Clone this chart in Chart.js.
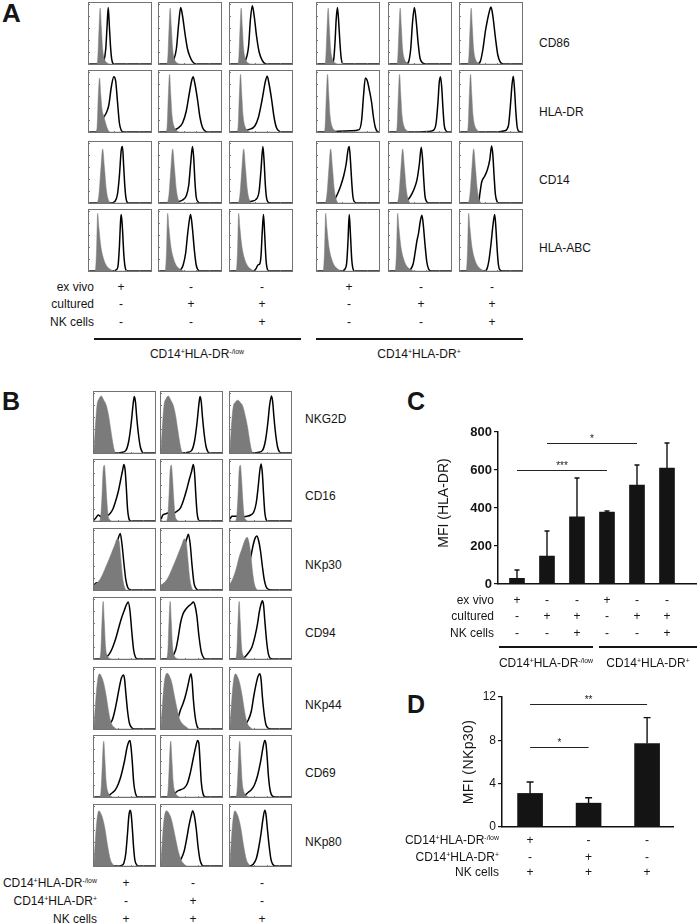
<!DOCTYPE html>
<html><head><meta charset="utf-8">
<script src="https://cdn.jsdelivr.net/npm/chart.js@4.4.1/dist/chart.umd.min.js"></script>
<style>
html,body{margin:0;padding:0;background:#fff;}
#root{position:relative;width:697px;height:923px;overflow:hidden;font-family:Arial,"Liberation Sans",sans-serif;color:#151515;}
#root canvas{position:absolute;}
.t{position:absolute;white-space:nowrap;line-height:1;}
.t sup{font-size:0.58em;vertical-align:0;position:relative;top:-0.6em;line-height:0;}
.hl{position:absolute;height:1.5px;background:#151515;}
</style></head><body><div id="root"></div>
<script>
// ---------------- DATA ----------------
const markersA = ['CD86','HLA-DR','CD14','HLA-ABC'];
const markersB = ['NKG2D','CD16','NKp30','CD94','NKp44','CD69','NKp80'];
const condNamesA = ['ex vivo','cultured','NK cells'];
const exVivoA   = ['+','-','-','+','-','-'];
const culturedA = ['-','+','+','-','+','+'];
const nkA       = ['-','-','+','-','-','+'];
const groupLabels = ['CD14<sup>+</sup>HLA-DR<sup>-/low</sup>','CD14<sup>+</sup>HLA-DR<sup>+</sup>'];
const condNamesB = ['CD14<sup>+</sup>HLA-DR<sup>-/low</sup>','CD14<sup>+</sup>HLA-DR<sup>+</sup>','NK cells'];
const lowB = ['+','-','-'];
const posB = ['-','+','-'];
const nkB  = ['+','+','+'];

// Panel C: MFI HLA-DR
const mfiHLADR    = [30, 147, 353, 379, 521, 610];
const mfiHLADRerr = [44, 132, 205, 5, 105, 132];
const sigC_from = [1, 2]; const sigC_to = [4, 5]; const sigC_level = [600, 742]; const sigC_text = ['***','*'];
// Panel D: MFI NKp30
const mfiNKp30    = [3.1, 2.2, 7.7];
const mfiNKp30err = [1.05, 0.5, 2.4];
const sigD_from = [1, 1]; const sigD_to = [3, 2]; const sigD_level = [11.36, 7.4]; const sigD_text = ['**','*'];

// Panel A histograms: [x% of log-fluorescence axis, y% of max count]
const isoA_CD86   = [[0,0],[12,0],[14,8],[16,55],[18,93],[20,60],[22,25],[25,8],[29,2],[35,0],[100,0]];
const isoA_HLADR  = [[0,0],[11,0],[13,8],[15,60],[17,96],[19,62],[21,28],[24,10],[28,3],[34,0],[100,0]];
const isoA_HLADRx = [[0,0],[11,0],[13,8],[15,60],[17,90],[19,62],[21,38],[24,26],[27,14],[30,5],[34,0],[100,0]];
const isoA_CD14   = [[0,0],[13,0],[16,14],[19,55],[22,90],[25,58],[28,22],[31,6],[35,0],[100,0]];
const isoA_HLAABC = [[0,0],[10,0],[12,30],[14,96],[16,72],[19,42],[23,22],[28,9],[34,3],[42,0],[100,0]];

const A_CD86_1 = [[0,0],[20,0],[24,5],[27,25],[29,60],[31,94],[33,60],[35,25],[37,6],[40,0],[100,0]];
const A_CD86_2 = [[0,0],[18,0],[23,5],[28,25],[32,70],[35,94],[38,80],[42,50],[46,25],[50,12],[54,4],[60,0],[100,0]];
const A_CD86_3 = [[0,0],[20,0],[25,6],[30,30],[33,75],[36,97],[39,80],[43,45],[47,20],[52,6],[58,0],[100,0]];
const A_CD86_4 = [[0,0],[24,0],[27,8],[29,35],[31,75],[33,94],[35,70],[37,35],[39,10],[42,0],[100,0]];
const A_CD86_5 = [[0,0],[28,0],[32,5],[35,25],[38,70],[41,94],[44,70],[47,35],[50,10],[54,2],[60,0],[100,0]];
const A_CD86_6 = [[0,0],[28,0],[33,5],[37,25],[41,55],[44,72],[47,86],[50,95],[53,80],[57,45],[61,15],[65,3],[70,0],[100,0]];

const A_HLADR_1 = [[0,0],[12,0],[16,8],[22,22],[28,32],[32,45],[36,75],[40,92],[43,85],[46,50],[49,15],[52,3],[56,0],[100,0]];
const A_HLADR_2 = [[0,0],[10,0],[20,2],[30,6],[38,15],[44,35],[49,65],[53,87],[55,92],[58,80],[62,55],[66,25],[70,8],[75,1],[80,0],[100,0]];
const A_HLADR_3 = [[0,0],[10,0],[20,2],[30,4],[40,10],[46,25],[52,55],[57,84],[60,93],[63,80],[67,55],[71,25],[75,7],[80,1],[85,0],[100,0]];
const A_HLADR_4 = [[0,0],[10,0],[30,1],[55,2],[68,4],[72,20],[75,60],[78,90],[81,86],[84,72],[88,50],[91,25],[94,8],[97,1],[100,0]];
const A_HLADR_5 = [[0,0],[50,0],[65,1],[72,3],[76,15],[79,50],[81,82],[83,92],[85,75],[87,40],[89,12],[92,2],[95,0],[100,0]];
const A_HLADR_6 = [[0,0],[60,0],[72,2],[78,10],[81,40],[84,80],[86,93],[88,70],[90,35],[92,10],[95,1],[100,0]];

const A_CD14_1 = [[0,0],[35,0],[42,3],[46,15],[49,45],[52,88],[54,94],[56,60],[58,25],[60,6],[63,0],[100,0]];
const A_CD14_2 = [[0,0],[20,0],[30,2],[38,5],[44,12],[48,30],[51,65],[54,94],[56,75],[58,35],[60,10],[63,2],[66,0],[100,0]];
const A_CD14_3 = [[0,0],[20,0],[28,2],[35,3],[42,6],[47,20],[50,55],[53,94],[55,70],[57,30],[59,8],[62,1],[65,0],[100,0]];
const A_CD14_4 = [[0,0],[24,0],[28,5],[33,15],[38,28],[43,45],[47,65],[50,88],[52,94],[54,70],[56,35],[58,10],[61,1],[64,0],[100,0]];
const A_CD14_5 = [[0,0],[24,0],[28,3],[34,10],[40,22],[45,38],[49,65],[52,93],[54,75],[56,40],[58,12],[61,2],[64,0],[100,0]];
const A_CD14_6 = [[0,0],[30,0],[32,15],[35,35],[40,45],[44,55],[48,72],[51,95],[53,80],[55,45],[57,15],[60,2],[63,0],[100,0]];

const A_HLAABC_1 = [[0,0],[38,0],[44,2],[47,10],[49,40],[51,85],[52,94],[54,70],[56,30],[58,8],[60,1],[63,0],[100,0]];
const A_HLAABC_2 = [[0,0],[30,0],[35,2],[39,10],[43,30],[46,60],[49,85],[51,94],[54,70],[57,35],[60,10],[63,2],[66,0],[100,0]];
const A_HLAABC_3 = [[0,0],[38,0],[42,4],[45,10],[48,12],[50,25],[52,65],[54,94],[56,60],[58,20],[60,4],[63,0],[100,0]];
const A_HLAABC_4 = [[0,0],[40,0],[45,3],[48,15],[50,50],[52,94],[54,60],[56,20],[58,4],[61,0],[100,0]];
const A_HLAABC_5 = [[0,0],[30,0],[35,3],[39,12],[42,30],[45,50],[48,65],[50,80],[53,93],[55,80],[58,45],[61,15],[64,3],[68,0],[100,0]];
const A_HLAABC_6 = [[0,0],[40,0],[44,5],[47,20],[50,45],[53,75],[56,94],[58,70],[60,35],[62,10],[65,1],[68,0],[100,0]];

// Panel B histograms
const isoB_NKG2D   = [[0,5],[2,40],[5,80],[8,90],[12,95],[16,88],[20,80],[24,62],[27,42],[30,22],[33,6],[36,0],[100,0]];
const isoB_NKG2D_3 = [[0,5],[2,40],[5,75],[9,85],[13,88],[17,84],[21,78],[25,62],[29,42],[32,22],[35,6],[38,0],[100,0]];
const isoB_CD16    = [[0,0],[8,0],[11,8],[13,40],[15,85],[17,93],[19,70],[21,35],[23,10],[26,2],[30,0],[100,0]];
const isoB_NKp30   = [[0,8],[5,12],[10,18],[15,28],[20,40],[25,52],[30,65],[34,75],[38,85],[41,82],[44,52],[47,20],[50,5],[53,0],[100,0]];
const isoB_NKp30_3 = [[0,10],[5,20],[10,35],[15,55],[20,70],[24,82],[28,88],[31,80],[34,60],[37,30],[40,10],[43,2],[46,0],[100,0]];
const isoB_CD94    = [[0,0],[8,0],[11,10],[13,60],[15,96],[17,60],[19,20],[22,5],[26,1],[30,0],[100,0]];
const isoB_NKp44   = [[0,5],[3,50],[6,82],[9,92],[12,88],[16,76],[20,55],[23,35],[26,18],[29,8],[33,3],[38,0],[100,0]];
const isoB_NKp44_2 = [[0,5],[3,50],[6,82],[10,93],[14,88],[18,76],[22,55],[26,35],[30,18],[34,10],[38,6],[42,3],[46,0],[100,0]];
const isoB_CD69    = [[0,0],[9,0],[11,5],[13,40],[15,85],[16,93],[18,60],[20,25],[23,8],[27,2],[32,0],[100,0]];
const isoB_NKp80   = [[0,5],[2,40],[5,78],[8,92],[11,88],[14,80],[18,62],[21,42],[24,24],[27,10],[30,4],[34,0],[100,0]];
const isoB_NKp80_2 = [[0,5],[2,40],[5,78],[9,92],[13,88],[17,78],[21,60],[25,40],[29,22],[33,10],[37,4],[42,0],[100,0]];

const B_NKG2D_1 = [[0,2],[5,1],[30,0],[45,1],[52,4],[57,20],[61,50],[64,80],[66,94],[68,85],[70,60],[73,30],[76,10],[79,2],[83,0],[100,0]];
const B_NKG2D_2 = [[0,2],[5,1],[30,0],[43,1],[50,4],[55,20],[59,50],[62,80],[64,94],[66,85],[68,60],[71,30],[74,10],[77,2],[81,0],[100,0]];
const B_NKG2D_3 = [[0,1],[5,0],[30,0],[46,1],[53,4],[58,20],[62,50],[65,80],[68,95],[70,85],[72,60],[75,30],[78,10],[81,2],[85,0],[100,0]];
const B_CD16_1 = [[0,2],[3,5],[7,10],[10,8],[15,6],[20,8],[26,12],[31,20],[36,35],[40,50],[44,70],[47,85],[49,94],[51,85],[53,55],[55,20],[57,5],[60,0],[100,0]];
const B_CD16_2 = [[0,3],[3,10],[8,12],[14,14],[20,13],[26,16],[32,22],[37,35],[42,52],[46,68],[50,82],[53,94],[55,80],[57,45],[59,15],[61,3],[64,0],[100,0]];
const B_CD16_3 = [[0,3],[3,8],[10,8],[20,7],[28,8],[34,10],[39,15],[43,30],[46,55],[49,85],[51,95],[53,80],[55,45],[57,15],[59,3],[62,0],[100,0]];
const B_NKp30_1 = [[0,8],[4,12],[8,12],[12,15],[17,20],[22,28],[27,38],[32,55],[36,72],[40,87],[43,94],[46,75],[49,45],[52,18],[55,5],[58,1],[62,0],[100,0]];
const B_NKp30_2 = [[0,6],[5,10],[10,12],[15,18],[20,25],[25,32],[30,42],[35,58],[39,75],[43,88],[45,93],[48,75],[51,40],[54,12],[57,3],[61,0],[100,0]];
const B_NKp30_3 = [[0,8],[5,10],[10,12],[15,14],[20,18],[25,25],[30,38],[34,55],[38,75],[41,86],[44,90],[47,82],[50,65],[53,40],[56,18],[59,6],[63,1],[68,0],[100,0]];
const B_CD94_1 = [[0,0],[15,0],[20,3],[25,8],[30,18],[35,32],[40,50],[45,68],[50,82],[53,90],[56,95],[59,80],[62,45],[65,15],[68,3],[72,0],[100,0]];
const B_CD94_2 = [[0,0],[10,0],[18,4],[24,15],[28,35],[32,60],[36,75],[40,82],[45,88],[50,92],[53,95],[56,88],[59,70],[62,40],[66,12],[70,2],[74,0],[100,0]];
const B_CD94_3 = [[0,0],[20,0],[24,3],[30,10],[36,20],[41,38],[45,58],[48,78],[51,92],[53,97],[55,90],[57,65],[60,30],[63,8],[66,1],[70,0],[100,0]];
const B_NKp44_1 = [[0,3],[5,5],[10,4],[15,4],[20,5],[25,8],[30,15],[34,30],[38,50],[42,72],[45,85],[48,90],[50,84],[52,62],[55,30],[58,10],[62,2],[66,0],[100,0]];
const B_NKp44_2 = [[0,3],[5,5],[10,5],[15,6],[20,8],[25,12],[29,22],[32,32],[36,42],[40,55],[44,72],[47,86],[49,92],[51,80],[53,50],[56,20],[59,5],[63,0],[100,0]];
const B_NKp44_3 = [[0,3],[5,4],[10,4],[15,5],[20,6],[25,8],[30,15],[35,30],[39,55],[43,76],[46,88],[49,92],[51,82],[53,55],[56,25],[59,7],[63,1],[67,0],[100,0]];
const B_CD69_1 = [[0,0],[20,0],[25,3],[30,7],[35,12],[40,22],[45,38],[50,60],[54,82],[57,92],[59,94],[61,80],[63,55],[65,25],[68,6],[72,0],[100,0]];
const B_CD69_2 = [[0,0],[18,0],[22,5],[27,10],[32,12],[38,15],[43,22],[48,40],[53,65],[57,84],[60,94],[62,90],[64,60],[66,25],[69,5],[73,0],[100,0]];
const B_CD69_3 = [[0,0],[22,0],[26,4],[30,8],[35,12],[40,20],[45,35],[50,58],[54,82],[57,94],[59,88],[61,65],[63,35],[66,10],[70,1],[74,0],[100,0]];
const B_NKp80_1 = [[0,1],[5,0],[40,0],[45,1],[49,5],[52,20],[55,55],[57,82],[59,93],[61,86],[63,60],[65,30],[67,10],[70,2],[74,0],[100,0]];
const B_NKp80_2 = [[0,2],[10,2],[20,3],[28,6],[33,12],[38,25],[42,45],[46,68],[50,86],[52,92],[55,82],[58,60],[61,30],[64,10],[67,2],[71,0],[100,0]];
const B_NKp80_3 = [[0,0],[30,0],[38,3],[43,12],[47,30],[51,55],[54,78],[57,93],[59,86],[61,65],[64,35],[67,12],[70,3],[74,0],[100,0]];

// ---------------- DRAWING ----------------
Chart.defaults.font.family = 'Arial, "Liberation Sans", sans-serif';
Chart.defaults.animation = false;
const root = document.getElementById('root');

function txt(html, x, y, o = {}) {
  const d = document.createElement('div');
  d.className = 't';
  d.innerHTML = html;
  d.style.left = x + 'px';
  d.style.top = y + 'px';
  d.style.fontSize = (o.size || 12) + 'px';
  if (o.bold) d.style.fontWeight = 'bold';
  if (o.spacing) d.style.letterSpacing = o.spacing + 'px';
  const tx = o.align === 'right' ? '-100%' : o.align === 'center' ? '-50%' : '0';
  d.style.transform = `translate(${tx},-50%)` + (o.rot ? ' rotate(-90deg)' : '');
  root.appendChild(d);
  return d;
}
function hline(x1, x2, y) {
  const d = document.createElement('div');
  d.className = 'hl';
  d.style.left = x1 + 'px'; d.style.top = (y - 0.75) + 'px'; d.style.width = (x2 - x1) + 'px';
  root.appendChild(d);
}
function canvasAt(x, y, w, h) {
  const c = document.createElement('canvas');
  c.width = w; c.height = h;
  c.style.left = x + 'px'; c.style.top = y + 'px';
  c.style.width = w + 'px'; c.style.height = h + 'px';
  root.appendChild(c);
  return c;
}
const framePlugin = {
  id: 'frame',
  afterDraw(chart) {
    const ctx = chart.ctx;
    ctx.save();
    ctx.strokeStyle = '#727272';
    ctx.lineWidth = 1;
    ctx.strokeRect(0.5, 0.5, chart.width - 1, chart.height - 1);
    // small log-decade tick marks on the left and bottom edges
    const xs = chart.scales.x, ys = chart.scales.y;
    ctx.strokeStyle = '#777';
    ctx.beginPath();
    for (let v = 0; v <= 100; v += 20) {
      const px = Math.round(xs.getPixelForValue(v)) + 0.5;
      ctx.moveTo(px, chart.height); ctx.lineTo(px, chart.height - 2);
      const py = Math.round(ys.getPixelForValue(v)) + 0.5;
      ctx.moveTo(0, py); ctx.lineTo(2, py);
    }
    ctx.stroke();
    ctx.restore();
  }
};
const pts = a => a.map(p => ({x: p[0], y: p[1]}));
function makeHist(x, y, w, h, gray, black) {
  const c = canvasAt(x, y, w, h);
  new Chart(c, {
    type: 'line',
    data: { datasets: [
      { data: pts(gray), fill: 'origin', backgroundColor: '#7b7b7b', borderColor: '#7b7b7b', borderWidth: 0.5, pointRadius: 0, cubicInterpolationMode: 'monotone' },
      { data: pts(black), fill: false, borderColor: '#000', borderWidth: 1.5, pointRadius: 0, cubicInterpolationMode: 'monotone' }
    ]},
    options: {
      responsive: false, animation: false, events: [],
      layout: { padding: { top: 2, left: 1, right: 1, bottom: 1 } },
      plugins: { legend: { display: false }, tooltip: { enabled: false } },
      scales: {
        x: { type: 'linear', min: 0, max: 100, display: false },
        y: { min: 0, max: 100, display: false }
      }
    },
    plugins: [framePlugin]
  });
}

// ----- Panel A -----
txt('A', 2, 13, {size: 26, bold: true});
const grayA = [
  [isoA_CD86, isoA_CD86, isoA_CD86, isoA_CD86, isoA_CD86, isoA_CD86],
  [isoA_HLADRx, isoA_HLADR, isoA_HLADR, isoA_HLADR, isoA_HLADR, isoA_HLADR],
  [isoA_CD14, isoA_CD14, isoA_CD14, isoA_CD14, isoA_CD14, isoA_CD14],
  [isoA_HLAABC, isoA_HLAABC, isoA_HLAABC, isoA_HLAABC, isoA_HLAABC, isoA_HLAABC]
];
const blackA = [
  [A_CD86_1, A_CD86_2, A_CD86_3, A_CD86_4, A_CD86_5, A_CD86_6],
  [A_HLADR_1, A_HLADR_2, A_HLADR_3, A_HLADR_4, A_HLADR_5, A_HLADR_6],
  [A_CD14_1, A_CD14_2, A_CD14_3, A_CD14_4, A_CD14_5, A_CD14_6],
  [A_HLAABC_1, A_HLAABC_2, A_HLAABC_3, A_HLAABC_4, A_HLAABC_5, A_HLAABC_6]
];
const colsA = [88, 158, 229, 316, 388, 459];
const rowsA = [2, 70, 141, 209];
const labelYA = [43, 112, 180, 248];
const boxW = 64, boxH = 63;
rowsA.forEach((ry, r) => {
  colsA.forEach((cx, c) => makeHist(cx, ry, boxW, boxH, grayA[r][c], blackA[r][c]));
  txt(markersA[r], 539, labelYA[r], {size: 12});
});
const condA = [exVivoA, culturedA, nkA];
const condYA = [287, 304, 322];
condNamesA.forEach((n, i) => {
  txt(n, 94, condYA[i], {size: 12, align: 'right'});
  condA[i].forEach((s, c) => txt(s, colsA[c] + 33, condYA[i], {size: 12, align: 'center'}));
});
hline(94, 301, 339); hline(316, 523, 339);
txt(groupLabels[0], 197, 354, {size: 12, align: 'center'});
txt(groupLabels[1], 419, 354, {size: 12, align: 'center'});

// ----- Panel B -----
txt('B', 2, 401, {size: 25, bold: true});
const grayB = [
  [isoB_NKG2D, isoB_NKG2D, isoB_NKG2D_3],
  [isoB_CD16, isoB_CD16, isoB_CD16],
  [isoB_NKp30, isoB_NKp30, isoB_NKp30_3],
  [isoB_CD94, isoB_CD94, isoB_CD94],
  [isoB_NKp44, isoB_NKp44_2, isoB_NKp44],
  [isoB_CD69, isoB_CD69, isoB_CD69],
  [isoB_NKp80, isoB_NKp80_2, isoB_NKp80]
];
const blackB = [
  [B_NKG2D_1, B_NKG2D_2, B_NKG2D_3],
  [B_CD16_1, B_CD16_2, B_CD16_3],
  [B_NKp30_1, B_NKp30_2, B_NKp30_3],
  [B_CD94_1, B_CD94_2, B_CD94_3],
  [B_NKp44_1, B_NKp44_2, B_NKp44_3],
  [B_CD69_1, B_CD69_2, B_CD69_3],
  [B_NKp80_1, B_NKp80_2, B_NKp80_3]
];
const colsB = [93, 160, 229];
const rowsB = [391, 459, 528, 597, 667, 735, 804];
const labelYB = [419, 496, 565, 633, 705, 773, 842];
rowsB.forEach((ry, r) => {
  colsB.forEach((cx, c) => makeHist(cx, ry, 63, 63, grayB[r][c], blackB[r][c]));
  txt(markersB[r], 305, labelYB[r], {size: 12});
});
const condB = [lowB, posB, nkB];
const condYB = [883, 901, 919];
condNamesB.forEach((n, i) => {
  txt(n, 97, condYB[i], {size: 12, align: 'right'});
  condB[i].forEach((s, c) => txt(s, colsB[c] + 33, condYB[i], {size: 12, align: 'center'}));
});

// ----- bar chart helpers -----
function errorBars(errs, cap) {
  return {
    id: 'errbars',
    afterDatasetsDraw(chart) {
      const meta = chart.getDatasetMeta(0), ys = chart.scales.y, ctx = chart.ctx;
      ctx.save(); ctx.strokeStyle = '#111'; ctx.lineWidth = 1.4;
      meta.data.forEach((bar, i) => {
        const v = chart.data.datasets[0].data[i].y;
        const top = ys.getPixelForValue(v + errs[i]);
        ctx.beginPath();
        ctx.moveTo(bar.x, bar.y); ctx.lineTo(bar.x, top);
        ctx.moveTo(bar.x - cap / 2, top); ctx.lineTo(bar.x + cap / 2, top);
        ctx.stroke();
      });
      ctx.restore();
    }
  };
}
function sigBars(from, to, level, text) {
  return {
    id: 'sig',
    afterDatasetsDraw(chart) {
      const xs = chart.scales.x, ys = chart.scales.y, ctx = chart.ctx;
      ctx.save(); ctx.strokeStyle = '#222'; ctx.fillStyle = '#222'; ctx.lineWidth = 1.2;
      ctx.font = '10px Arial, "Liberation Sans", sans-serif';
      ctx.textAlign = 'center'; ctx.textBaseline = 'bottom';
      from.forEach((f, i) => {
        const x1 = xs.getPixelForValue(f), x2 = xs.getPixelForValue(to[i]);
        const y = Math.round(ys.getPixelForValue(level[i])) + 0.5;
        ctx.beginPath(); ctx.moveTo(x1, y); ctx.lineTo(x2, y); ctx.stroke();
        ctx.fillText(text[i], (x1 + x2) / 2, y + 1);
      });
      ctx.restore();
    }
  };
}
function barChart(cfg) {
  const c = canvasAt(cfg.left, cfg.top, cfg.w, cfg.h);
  return new Chart(c, {
    type: 'bar',
    data: { datasets: [{ data: cfg.values.map((v, i) => ({x: i + 1, y: v})), backgroundColor: '#141414', borderWidth: 0, barThickness: cfg.barW }] },
    options: {
      responsive: false, animation: false, events: [],
      layout: { padding: { top: 12, left: 0, right: 0, bottom: 0 } },
      plugins: { legend: { display: false }, tooltip: { enabled: false } },
      scales: {
        x: { type: 'linear', min: cfg.xmin, max: cfg.xmax, offset: false,
             grid: { display: false }, ticks: { display: false },
             border: { display: true, color: '#111', width: 1.5 },
             afterFit(s) { s.height = 16; } },
        y: { min: 0, max: cfg.ymax,
             ticks: { stepSize: cfg.step, color: '#151515', padding: 2, font: { size: cfg.tickSize, weight: cfg.tickWeight } },
             grid: { display: true, drawOnChartArea: false, drawTicks: true, tickLength: 4, color: '#111', lineWidth: 1.2 },
             border: { display: true, color: '#111', width: 1.5 },
             afterFit(s) { s.width = cfg.axisW; } }
      }
    },
    plugins: [errorBars(cfg.errs, cfg.cap), sigBars(cfg.sig[0], cfg.sig[1], cfg.sig[2], cfg.sig[3])]
  });
}

// ----- Panel C -----
txt('C', 407, 401, {size: 25, bold: true});
const chartC = barChart({left: 400, top: 420, w: 297, h: 180, values: mfiHLADR, errs: mfiHLADRerr,
  barW: 15, cap: 5, xmin: 0.367, xmax: 7.0, ymax: 800, step: 200, tickSize: 13, tickWeight: 'bold', axisW: 98,
  sig: [sigC_from, sigC_to, sigC_level, sigC_text]});
txt('MFI (HLA-DR)', 443, 503, {size: 14, align: 'center', rot: true});
const condYC = [600, 616, 633];
condA.forEach((arr, i) => {
  txt(condNamesA[i], 494, condYC[i], {size: 12, align: 'right'});
  arr.forEach((s, c) => txt(s, 400 + chartC.scales.x.getPixelForValue(c + 1), condYC[i], {size: 12, align: 'center'}));
});
hline(499, 593, 647); hline(599, 697, 647);
txt(groupLabels[0], 546, 663, {size: 12, align: 'center'});
txt(groupLabels[1], 648, 663, {size: 12, align: 'center'});

// ----- Panel D -----
txt('D', 407, 704, {size: 25, bold: true});
const chartD = barChart({left: 400, top: 685, w: 274, h: 158, values: mfiNKp30, errs: mfiNKp30err,
  barW: 25, cap: 7, xmin: 0.52, xmax: 3.46, ymax: 12, step: 4, tickSize: 12, tickWeight: 'normal', axisW: 102,
  sig: [sigD_from, sigD_to, sigD_level, sigD_text]});
txt('MFI (NKp30)', 468, 762, {size: 14, align: 'center', rot: true, spacing: 0.4});
const condYD = [840, 857, 872];
condB.forEach((arr, i) => {
  txt(condNamesB[i], 499, condYD[i], {size: 12, align: 'right'});
  arr.forEach((s, c) => txt(s, 400 + chartD.scales.x.getPixelForValue(c + 1), condYD[i], {size: 12, align: 'center'}));
});
</script></body></html>
